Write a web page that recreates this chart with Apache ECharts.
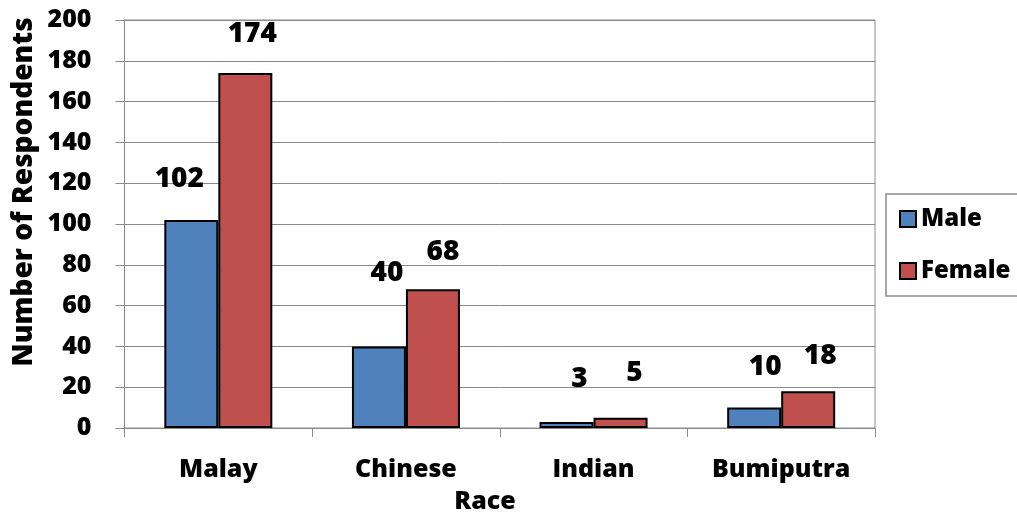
<!DOCTYPE html>
<html>
<head>
<meta charset="utf-8">
<style>
  html, body { margin: 0; padding: 0; background: #fff; }
  #chart { width: 1017px; height: 514px; }
</style>
<script src="https://cdn.jsdelivr.net/npm/echarts@6/dist/echarts.min.js"></script>
</head>
<body>
<div id="chart"></div>
<script>
// Respondents by race and gender
const categories = ['Malay', 'Chinese', 'Indian', 'Bumiputra'];
const maleValues = [102, 40, 3, 10];
const femaleValues = [174, 68, 5, 18];
const yTicks = [0, 20, 40, 60, 80, 100, 120, 140, 160, 180, 200];

// Hand-placed label nudges [dx, dy] per bar (styling only)
const maleNudge = [[-12, 0], [8, -32], [13, -2], [11, 0]];
const femaleNudge = [[7, 2], [10, 4], [14, -4], [12, 6]];

const FONT = '"Open Sans", sans-serif';
const WEIGHT = 800;
const GRID_COLOR = '#8a8a8a';

function buildSeries(name, values, nudges, color) {
  return {
    name: name,
    type: 'bar',
    barWidth: 54,
    barGap: '0%',
    itemStyle: { color: color, borderColor: '#000', borderWidth: 2 },
    label: {
      show: true,
      position: 'top',
      distance: 27,
      fontFamily: FONT,
      fontWeight: WEIGHT,
      fontSize: 28,
      lineHeight: 28,
      color: '#000'
    },
    data: values.map((v, i) => ({ value: v, label: { offset: nudges[i] } }))
  };
}

const chart = echarts.init(document.getElementById('chart'), null, { renderer: 'canvas' });
chart.setOption({
  animation: false,
  backgroundColor: '#fff',
  textStyle: { fontFamily: FONT },
  grid: {
    left: 124.5, right: 142, top: 20, bottom: 86,
    show: true, borderColor: GRID_COLOR, borderWidth: 1,
    containLabel: false
  },
  legend: {
    orient: 'vertical',
    left: 886, top: 194,
    padding: [13, 60, 13, 13],
    itemGap: 28,
    itemWidth: 16, itemHeight: 16,
    icon: 'rect',
    borderColor: '#8a8a8a', borderWidth: 1.5,
    textStyle: { fontFamily: FONT, fontWeight: WEIGHT, fontSize: 24, lineHeight: 24, color: '#000' },
    data: ['Male', 'Female']
  },
  xAxis: {
    type: 'category',
    data: categories,
    axisLine: { lineStyle: { color: GRID_COLOR, width: 1 } },
    axisTick: { show: true, length: 9, alignWithLabel: false, lineStyle: { color: GRID_COLOR } },
    axisLabel: { interval: 0, margin: 29, fontFamily: FONT, fontWeight: WEIGHT, fontSize: 25, color: '#000' }
  },
  yAxis: {
    type: 'value',
    min: yTicks[0], max: yTicks[yTicks.length - 1], interval: yTicks[1] - yTicks[0],
    axisLine: { show: true, lineStyle: { color: GRID_COLOR, width: 1 } },
    axisTick: { show: true, length: 9, lineStyle: { color: GRID_COLOR } },
    splitLine: { lineStyle: { color: GRID_COLOR, width: 1 } },
    axisLabel: { margin: 33, fontFamily: FONT, fontWeight: WEIGHT, fontSize: 25, color: '#000' }
  },
  graphic: [
    {
      type: 'text',
      x: 24, y: 192,
      rotation: Math.PI / 2,
      style: {
        text: 'Number of Respondents',
        fontFamily: FONT, fontWeight: WEIGHT, fontSize: 28,
        fill: '#000', align: 'center', verticalAlign: 'middle'
      }
    },
    {
      type: 'text',
      x: 485, y: 502,
      style: {
        text: 'Race',
        fontFamily: FONT, fontWeight: WEIGHT, fontSize: 25,
        fill: '#000', align: 'center', verticalAlign: 'middle'
      }
    }
  ],
  series: [
    buildSeries('Male', maleValues, maleNudge, '#4f81bd'),
    buildSeries('Female', femaleValues, femaleNudge, '#c0504d')
  ]
});
</script>
</body>
</html>
